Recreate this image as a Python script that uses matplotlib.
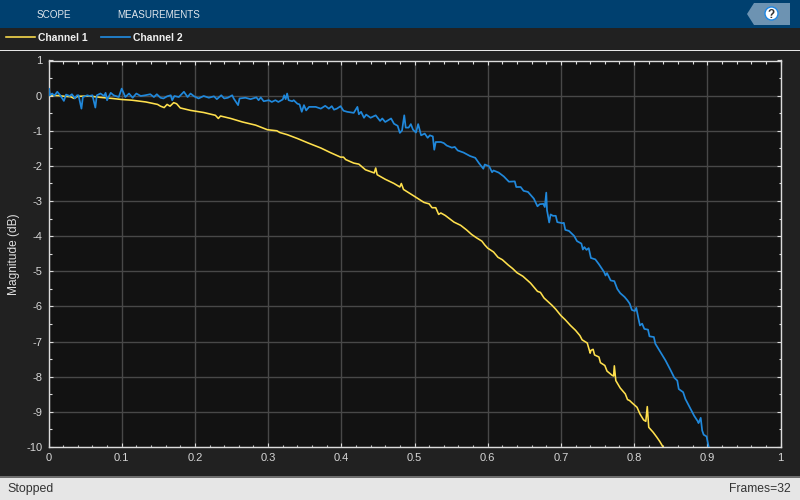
import matplotlib
matplotlib.use("Agg")
import matplotlib.pyplot as plt
from matplotlib.patches import Rectangle, Polygon, Circle
from matplotlib.ticker import MultipleLocator, FixedFormatter, FixedLocator

plt.rcParams['font.family'] = ['Liberation Sans', 'DejaVu Sans']

ch1_x = [0,.005,.014,.022,.03,.035,.04,.055,.071,.087,.1,.114,.133,.149,.153,.158,.162,.166,.171,.175,.18,.194,.212,.228,.232,.235,.249,.265,.283,.299,.312,.316,.326,.34,.355,.372,.385,.399,.403,.406,.417,.424,.433,.445,.447,.449,.46,.472,.48,.482,.485,.501,.513,.52,.524,.529,.533,.536,.542,.554,.563,.571,.578,.585,.592,.596,.6,.608,.614,.62,.628,.634,.64,.648,.6585,.668,.672,.677,.688,.693,.7,.706,.713,.72,.726,.729,.736,.74,.741,.744,.746,.752,.754,.76,.763,.77,.772,.773,.775,.781,.788,.791,.794,.797,.804,.808,.813,.816,.818,.82,.826,.831,.835,.841]
ch1_y = [0,.01,0,-.02,-.03,-.08,-.02,-.01,-.05,-.08,-.11,-.13,-.18,-.25,-.3,-.34,-.25,-.3,-.2,-.23,-.35,-.42,-.48,-.56,-.65,-.58,-.65,-.75,-.84,-.97,-1.0,-1.05,-1.11,-1.22,-1.35,-1.49,-1.62,-1.75,-1.75,-1.82,-1.92,-1.95,-2.11,-2.2,-2.06,-2.25,-2.38,-2.5,-2.6,-2.5,-2.67,-2.88,-3.04,-3.08,-3.19,-3.19,-3.38,-3.34,-3.41,-3.6,-3.69,-3.82,-3.95,-4.05,-4.14,-4.25,-4.34,-4.45,-4.6,-4.67,-4.82,-4.92,-5.04,-5.14,-5.335,-5.57,-5.6,-5.76,-5.97,-6.08,-6.26,-6.38,-6.54,-6.68,-6.83,-6.95,-7.04,-7.33,-7.25,-7.22,-7.38,-7.44,-7.6,-7.68,-7.84,-7.96,-7.98,-7.69,-8.11,-8.32,-8.49,-8.65,-8.68,-8.74,-8.87,-9.06,-9.23,-9.27,-8.85,-9.44,-9.58,-9.72,-9.84,-10.05]

ch2_x = [0,.0005,.002,.005,.008,.012,.016,.021,.024,.029,.032,.036,.039,.041,.045,.047,.053,.056,.06,.064,.066,.071,.076,.078,.08,.085,.089,.096,.1,.105,.11,.115,.12,.126,.132,.139,.144,.148,.153,.157,.162,.167,.169,.172,.178,.185,.19,.194,.199,.205,.212,.219,.226,.23,.236,.24,.245,.251,.253,.259,.261,.269,.276,.284,.287,.29,.294,.301,.305,.31,.314,.32,.322,.324,.326,.328,.333,.335,.34,.343,.346,.349,.352,.356,.365,.372,.378,.383,.387,.39,.394,.399,.403,.408,.417,.422,.424,.427,.431,.434,.44,.447,.453,.456,.46,.468,.472,.477,.48,.483,.486,.488,.492,.495,.498,.502,.505,.509,.514,.518,.521,.525,.527,.529,.536,.54,.544,.551,.555,.559,.567,.576,.583,.588,.594,.596,.602,.606,.608,.615,.622,.629,.637,.639,.645,.649,.655,.663,.668,.671,.676,.678,.68,.681,.684,.686,.689,.693,.695,.702,.704,.706,.711,.718,.722,.728,.73,.732,.735,.738,.741,.747,.752,.759,.761,.763,.768,.773,.777,.781,.787,.791,.794,.797,.801,.803,.806,.808,.811,.814,.819,.821,.827,.829,.836,.843,.85,.855,.859,.861,.867,.87,.876,.882,.887,.888,.891,.893,.895,.899,.902,.908]
ch2_y = [.0,.2,.01,.06,0,.11,.01,-.15,.03,-.01,.04,-.08,.01,.01,-.37,-.04,.01,-.01,.01,-.34,.01,.06,-.01,.08,-.13,.08,.01,-.04,.2,-.04,.06,-.06,.06,-.01,.01,.04,-.04,.04,-.06,-.08,-.02,.01,-.13,-.01,-.04,.11,-.04,.06,-.02,-.08,-.01,-.06,-.02,-.1,.01,-.08,-.06,.01,-.08,-.27,-.08,-.06,-.1,-.05,-.13,-.05,-.16,-.13,-.18,-.13,-.18,-.11,.01,-.1,.06,-.13,-.16,-.13,-.23,-.25,-.46,-.27,-.42,-.32,-.32,-.37,-.29,-.37,-.3,-.4,-.37,-.3,-.43,-.46,-.49,-.32,-.53,-.46,-.63,-.54,-.63,-.56,-.72,-.65,-.75,-.65,-.8,-.86,-1.06,-.99,-.56,-.91,-.91,-.81,-.97,-1.05,-.81,-1.13,-1.08,-1.2,-1.13,-1.16,-1.54,-1.32,-1.32,-1.35,-1.42,-1.48,-1.46,-1.56,-1.62,-1.72,-1.77,-1.92,-2.08,-1.96,-2.01,-2.18,-2.13,-2.19,-2.3,-2.45,-2.44,-2.6,-2.6,-2.71,-2.74,-2.93,-3.15,-3.09,-3.08,-3.17,-2.76,-3.26,-3.61,-3.38,-3.42,-3.42,-3.6,-3.63,-3.62,-3.82,-3.85,-3.99,-4.14,-4.21,-4.38,-4.31,-4.39,-4.34,-4.62,-4.66,-4.8,-5.02,-5.12,-5.05,-5.26,-5.28,-5.5,-5.62,-5.73,-5.83,-5.92,-6.1,-6.13,-6.04,-6.35,-6.54,-6.49,-6.64,-6.66,-6.85,-6.87,-7.06,-7.3,-7.54,-7.82,-8.03,-8.11,-8.35,-8.44,-8.63,-8.87,-9.11,-9.27,-9.32,-9.17,-9.53,-9.65,-9.7,-10.01,-10.05]

x_ticks = [0, .1, .2, .3, .4, .5, .6, .7, .8, .9, 1]
x_labels = ['0', '0.1', '0.2', '0.3', '0.4', '0.5', '0.6', '0.7', '0.8', '0.9', '1']
y_ticks = [1, 0, -1, -2, -3, -4, -5, -6, -7, -8, -9, -10]
y_labels = [str(v) for v in y_ticks]
tab_labels = ['SCOPE', 'MEASUREMENTS']
series_names = ['Channel 1', 'Channel 2']

W, H = 800, 500
BG = '#212121'
LIGHT = '#dcdcdc'
fig = plt.figure(figsize=(8, 5), dpi=100, facecolor=BG)

def fx(p): return p / W
def fy(p): return 1 - p / H

def band(x0, y0, x1, y1, color):
    fig.add_artist(Rectangle((fx(x0), fy(y1)), (x1 - x0) / W, (y1 - y0) / H,
                             transform=fig.transFigure, facecolor=color, edgecolor='none', zorder=-5))

band(0, 0, 800, 27.5, '#00406f')
band(0, 50, 800, 51, '#e6e6e6')
band(0, 476, 800, 477.5, '#6e6e6e')
band(0, 477.5, 800, 500, '#e6e6e6')

# Help button
fig.add_artist(Polygon([(fx(747), fy(14)), (fx(754), fy(3)), (fx(790), fy(3)), (fx(790), fy(25)), (fx(754), fy(25))],
                       closed=True, transform=fig.transFigure, facecolor='#6d93b2', edgecolor='none'))
fig.add_artist(Circle((771.5, H - 13.5), 6.5, transform=None, facecolor='white', edgecolor='#1e88e5', linewidth=1))
fig.text(fx(771.5), fy(14.5), '?', color='#333333', fontsize=8.5, fontweight='bold', ha='center', va='center')

fig.text(fx(36.5), fy(15), tab_labels[0], color='#e0e6ec', fontsize=7.1, ha='left', va='center')
fig.text(fx(117.5), fy(15), tab_labels[1], color='#e0e6ec', fontsize=7.1, ha='left', va='center')
fig.text(fx(7), fy(489), 'Stopped', color='#333333', fontsize=8.9, ha='left', va='center')
fig.text(fx(791), fy(489), 'Frames=32', color='#333333', fontsize=8.7, ha='right', va='center')

ax = fig.add_axes([fx(48.5), fy(447), (780.5 - 48.5) / W, (447 - 60.5) / H], facecolor='#121212')
line1, = ax.plot(ch1_x, ch1_y, color='#ffe04d', lw=1.15, solid_joinstyle='round', zorder=3)
line2, = ax.plot(ch2_x, ch2_y, color='#2088db', lw=1.25, solid_joinstyle='round', zorder=4)
ax.set_xlim(0, 1)
ax.set_ylim(-10, 1)

ax.xaxis.set_major_locator(FixedLocator(x_ticks))
ax.xaxis.set_major_formatter(FixedFormatter(x_labels))
ax.yaxis.set_major_locator(FixedLocator(y_ticks))
ax.yaxis.set_major_formatter(FixedFormatter(y_labels))
ax.xaxis.set_minor_locator(MultipleLocator(0.02))
ax.yaxis.set_minor_locator(MultipleLocator(0.5))
ax.grid(True, which='major', color='#484848', lw=1)
ax.set_axisbelow(True)
ax.tick_params(which='major', direction='in', length=3.2, width=0.8, color=LIGHT, top=True, right=True,
               labelcolor='#d6d6d6', labelsize=8, pad=4.5)
ax.tick_params(which='minor', direction='in', length=1.8, width=0.8, color=LIGHT, top=True, right=True)
for s in ax.spines.values():
    s.set_color(LIGHT)
    s.set_linewidth(1)
ax.set_ylabel('Magnitude (dB)', color='#e0e0e0', fontsize=8.6)
ax.yaxis.set_label_coords((14 - 48.5) / (780.5 - 48.5), 0.5)
ax.yaxis.get_label().set_va('center')

fig.legend([line1, line2], series_names, loc='center left', bbox_to_anchor=(fx(-1.5), fy(38)), ncol=2,
           frameon=False, labelcolor='#f0f0f0', handlelength=2.8, handletextpad=0.25,
           columnspacing=1.35, borderpad=0.2, prop={'weight': 'bold', 'size': 7.5})

fig.savefig('out.png', dpi=100, facecolor=fig.get_facecolor())
